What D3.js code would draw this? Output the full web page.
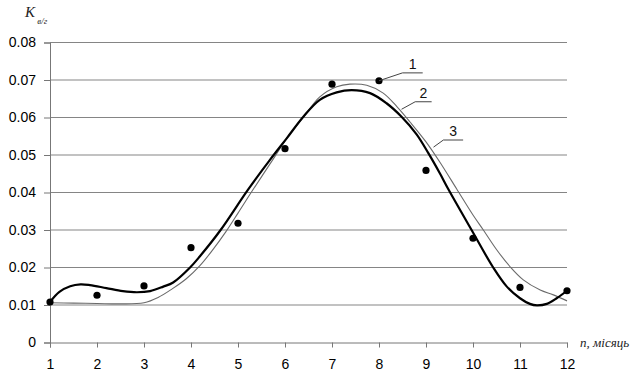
<!DOCTYPE html>
<html>
<head>
<meta charset="utf-8">
<script src="https://cdn.jsdelivr.net/npm/d3@7"></script>
<style>
  body { margin: 0; background: #fff; }
  svg { display: block; }
  .tick text { font-family: "Liberation Sans", Arial, sans-serif; font-size: 14px; fill: #000; }
</style>
</head>
<body>
<svg></svg>
<script>
// months and measured values (series 1, dots)
const months = [1, 2, 3, 4, 5, 6, 7, 8, 9, 10, 11, 12]
const observed = [0.0108, 0.0126, 0.0151, 0.0253, 0.0318, 0.0517, 0.0689, 0.0698, 0.0459, 0.0278, 0.0147, 0.0138]

// curve 2 (thick)
const curve2X = [1, 1.2, 1.43, 1.65, 1.85, 2.2, 2.55, 2.85, 3.13, 3.41, 3.62, 3.98, 4.19, 4.63, 5.21, 5.68, 6.04, 6.39, 6.74, 7.1, 7.42, 7.81, 8.16, 8.48, 8.8, 9.05, 9.3, 9.47, 9.97, 10.43, 10.72, 11.0, 11.21, 11.36, 11.57, 11.78, 12]
const curve2Y = [0.0108, 0.0135, 0.0150, 0.0155, 0.0153, 0.0145, 0.0137, 0.0134, 0.0137, 0.0149, 0.0160, 0.0200, 0.0230, 0.0300, 0.0407, 0.0487, 0.0545, 0.0602, 0.0647, 0.0667, 0.0673, 0.0665, 0.0638, 0.0602, 0.0555, 0.0505, 0.0450, 0.0410, 0.0300, 0.0200, 0.0149, 0.0118, 0.0103, 0.0099, 0.0103, 0.0118, 0.0138]

// curve 3 (thin)
const curve3X = [1, 1.5, 2, 2.5, 3.0, 3.3, 3.6, 3.9, 4.19, 4.45, 4.74, 5.0, 5.29, 5.78, 6.04, 6.4, 6.74, 7.1, 7.38, 7.74, 8.09, 8.38, 8.66, 9.0, 9.3, 9.65, 10.0, 10.22, 10.5, 10.79, 11.07, 11.43, 11.71, 12]
const curve3Y = [0.0106, 0.0105, 0.0104, 0.0103, 0.0106, 0.0120, 0.0143, 0.0170, 0.0205, 0.0245, 0.0295, 0.0345, 0.0402, 0.0495, 0.0545, 0.0602, 0.0655, 0.0682, 0.0689, 0.0686, 0.0665, 0.0629, 0.0588, 0.0535, 0.0480, 0.0410, 0.0340, 0.0300, 0.0248, 0.0202, 0.0167, 0.0140, 0.0127, 0.0111]

const yTicks = [0, 0.01, 0.02, 0.03, 0.04, 0.05, 0.06, 0.07, 0.08]
const yTickLabels = ['0', '0.01', '0.02', '0.03', '0.04', '0.05', '0.06', '0.07', '0.08']

const
    svgWidth = 642,
    svgHeight = 379

let svg = d3.select('svg')
    .attr('width', svgWidth)
    .attr('height', svgHeight)

let x = d3.scaleLinear().domain([1, 12]).range([50, 567])
let y = d3.scaleLinear().domain([0, 0.08]).range([342.5, 42.5])

// grid
svg.append('g').selectAll('line')
    .data(yTicks.slice(1))
    .enter()
    .append('line')
        .attr('x1', x(1))
        .attr('x2', x(12))
        .attr('y1', d => y(d))
        .attr('y2', d => y(d))
        .attr('stroke', '#858585')
        .attr('stroke-width', 1)

// axes
let yAxis = svg.append('g')
    .attr('transform', `translate(${x(1)},0)`)
    .call(d3.axisLeft(y).tickValues(yTicks).tickSize(6).tickPadding(8)
        .tickFormat((d, i) => yTickLabels[i]))
let xAxis = svg.append('g')
    .attr('transform', `translate(0,${y(0)})`)
    .call(d3.axisBottom(x).tickValues(months).tickSize(5).tickPadding(12).tickSizeOuter(5)
        .tickFormat(d3.format('d')))
svg.selectAll('.domain').attr('stroke', '#777')
svg.selectAll('.tick line').attr('stroke', '#777')

// curves
let line = d3.line().curve(d3.curveCatmullRom.alpha(0.5))
svg.append('path')
    .attr('d', line(curve3X.map((d, i) => [x(d), y(curve3Y[i])])))
    .attr('fill', 'none')
    .attr('stroke', '#6a6a6a')
    .attr('stroke-width', 1.1)
svg.append('path')
    .attr('d', line(curve2X.map((d, i) => [x(d), y(curve2Y[i])])))
    .attr('fill', 'none')
    .attr('stroke', '#000')
    .attr('stroke-width', 2.2)

// dots
svg.append('g').selectAll('circle')
    .data(observed)
    .enter()
    .append('circle')
        .attr('cx', (d, i) => x(months[i]))
        .attr('cy', d => y(d))
        .attr('r', 3.6)
        .attr('fill', '#000')

// leader labels, anchored in data units
const leaders = [
    { label: '1', pts: [[8, 0.0698], [8.5, 0.0719], [8.93, 0.0719]] },
    { label: '2', pts: [[8.48, 0.0622], [8.77, 0.0642], [9.12, 0.0642]] },
    { label: '3', pts: [[9.16, 0.0521], [9.37, 0.054], [9.79, 0.054]] }
]
let lead = svg.append('g').selectAll('g')
    .data(leaders)
    .enter()
    .append('g')
lead.append('path')
    .attr('d', d => d3.line()(d.pts.map(p => [x(p[0]), y(p[1])])))
    .attr('fill', 'none')
    .attr('stroke', '#444')
    .attr('stroke-width', 1)
lead.append('text')
    .text(d => d.label)
    .attr('x', d => (x(d.pts[1][0]) + x(d.pts[2][0])) / 2)
    .attr('y', d => y(d.pts[1][1]) - 4)
    .attr('text-anchor', 'middle')
    .attr('font-family', '"Liberation Sans", Arial, sans-serif')
    .attr('font-size', 14)
    .attr('fill', '#111')

// axis titles
let yTitle = svg.append('text')
    .attr('x', 25)
    .attr('y', 17)
    .attr('font-family', '"Liberation Serif", "Times New Roman", serif')
    .attr('font-style', 'italic')
    .attr('fill', '#222')
yTitle.append('tspan').text('K').attr('font-size', 15)
yTitle.append('tspan').text(' в/г').attr('font-size', 9).attr('dy', 7)

svg.append('text')
    .text('n, місяць')
    .attr('x', 580)
    .attr('y', 347)
    .attr('font-family', '"Liberation Serif", "Times New Roman", serif')
    .attr('font-style', 'italic')
    .attr('font-size', 13)
    .attr('fill', '#222')
</script>
</body>
</html>
